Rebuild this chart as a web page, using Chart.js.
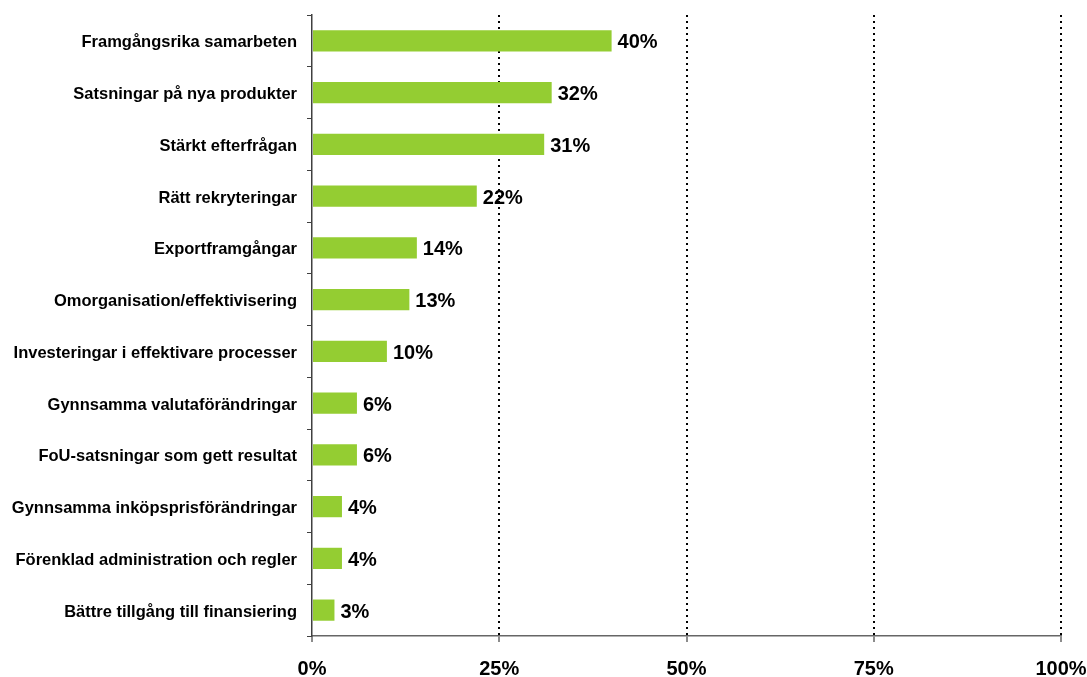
<!DOCTYPE html>
<html><head><meta charset="utf-8">
<script src="https://cdn.jsdelivr.net/npm/chart.js@4/dist/chart.umd.min.js"></script>
<style>html,body{margin:0;padding:0;background:#fff}#wrap{width:1087px;height:677px}</style>
</head><body><div id="wrap"><canvas id="c" width="1087" height="677"></canvas></div>
<script>
const categories = [
  "Framgångsrika samarbeten",
  "Satsningar på nya produkter",
  "Stärkt efterfrågan",
  "Rätt rekryteringar",
  "Exportframgångar",
  "Omorganisation/effektivisering",
  "Investeringar i effektivare processer",
  "Gynnsamma valutaförändringar",
  "FoU-satsningar som gett resultat",
  "Gynnsamma inköpsprisförändringar",
  "Förenklad administration och regler",
  "Bättre tillgång till finansiering"
];
const values = [40, 32, 31, 22, 14, 13, 10, 6, 6, 4, 4, 3];
const xTicks = [0, 25, 50, 75, 100];

const FONT = "'Liberation Sans', Arial, sans-serif";

const labelPlugin = {
  id: 'valueLabels',
  afterDatasetsDraw(chart) {
    const ctx = chart.ctx;
    const meta = chart.getDatasetMeta(0);
    ctx.save();
    ctx.font = "bold 20px " + FONT;
    ctx.fillStyle = '#000';
    ctx.textAlign = 'left';
    ctx.textBaseline = 'middle';
    meta.data.forEach((bar, i) => {
      ctx.fillText(values[i] + '%', bar.x + 6, bar.y + 2);
    });
    ctx.restore();
  }
};

new Chart(document.getElementById('c'), {
  type: 'bar',
  data: {
    labels: categories,
    datasets: [{
      data: values,
      backgroundColor: '#94CD32',
      borderWidth: 0,
      barPercentage: 0.41,
      categoryPercentage: 1.0
    }]
  },
  options: {
    indexAxis: 'y',
    responsive: false,
    animation: false,
    devicePixelRatio: 1,
    layout: { padding: { top: 15, right: 26, bottom: 0, left: 0 } },
    plugins: { legend: { display: false }, tooltip: { enabled: false } },
    scales: {
      x: {
        type: 'linear',
        min: 0, max: 100,
        afterBuildTicks(scale) { scale.ticks = xTicks.map(v => ({ value: v })); },
        afterFit(scale) {
          scale.height = 41;
          scale.paddingLeft = 0; scale.paddingRight = 0;
          scale.paddingTop = 0; scale.paddingBottom = 0;
        },
        ticks: {
          callback: v => v + '%',
          font: { family: FONT, size: 20, weight: 'bold' },
          color: '#000',
          padding: 15,
          maxRotation: 0
        },
        grid: {
          color: ctx => (ctx.tick && ctx.tick.value === 0) ? 'rgba(0,0,0,0)' : '#000',
          lineWidth: 2,
          drawTicks: true,
          tickLength: 6,
          tickColor: '#666',
          tickWidth: 1.5
        },
        border: { display: true, color: '#666', width: 1.5, dash: [2, 4] }
      },
      y: {
        type: 'category',
        afterFit(scale) {
          scale.width = 312;
          scale.paddingLeft = 0; scale.paddingRight = 0;
          scale.paddingTop = 0; scale.paddingBottom = 0;
        },
        ticks: {
          font: { family: FONT, size: 16.5, weight: 'bold' },
          color: '#000',
          padding: 10,
          labelOffset: 2,
          autoSkip: false
        },
        grid: {
          offset: true,
          drawOnChartArea: false,
          drawTicks: true,
          tickLength: 5,
          tickColor: '#404040',
          color: '#404040'
        },
        border: { display: true, color: '#404040', width: 1.5 }
      }
    }
  },
  plugins: [labelPlugin]
});
</script>
</body></html>
